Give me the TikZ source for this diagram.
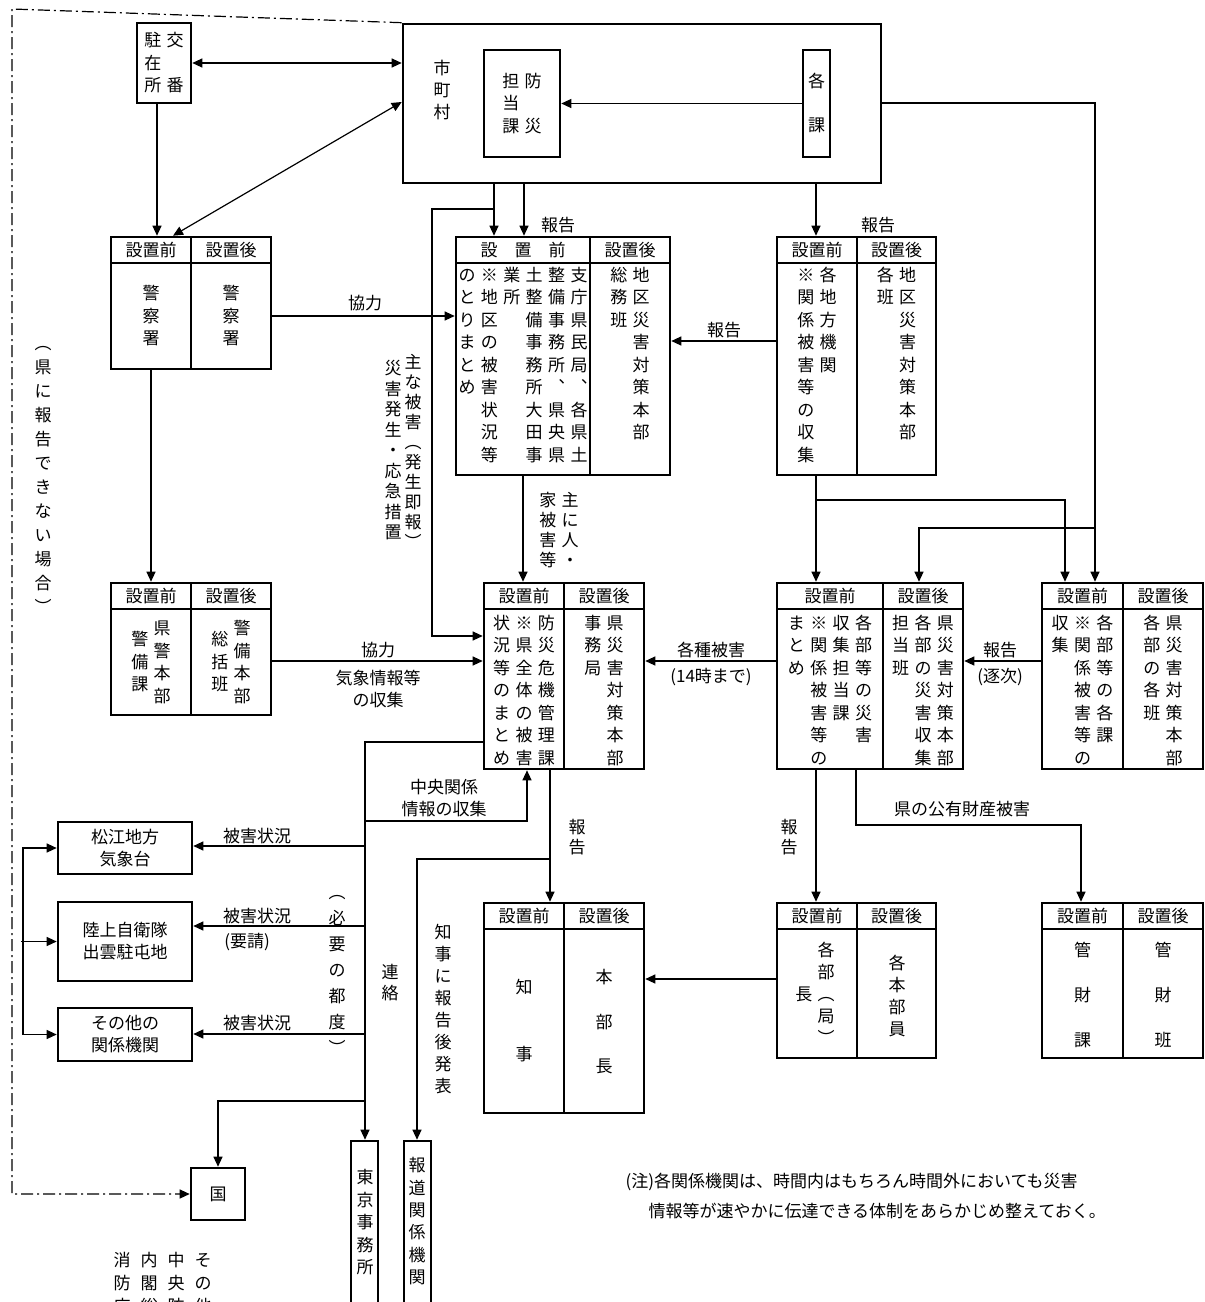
\documentclass[tikz,border=0pt]{standalone}
\usepackage{fontspec}
\setmainfont{Noto Sans CJK JP}
\usetikzlibrary{arrows.meta}
\newlength\tatew
\setlength\tatew{22.4pt}
\newcommand\kara{}
\def\tatego#1{\ifx#1\relax\else\hbox to\tatew{\hss\vrule width0pt height.88em depth.12em\relax#1\hss}\expandafter\tatego\fi}
\newcommand\tate[2][22.5pt]{\vtop{\baselineskip=#1\lineskiplimit=-\maxdimen\tatego#2\relax}}
\newcommand\tatec[2][22.5pt]{$\vcenter{\baselineskip=#1\lineskiplimit=-\maxdimen\tatego#2\relax}$}
\newcommand\kubun[7]{%
  \node[waku, minimum width={(#5-#2)*1pt}, minimum height={(#6-#3)*1pt}] (#1) at ({(#2+#5)/2},{(#3+#6)/2}) {};
  \draw[waku] (#2,#3+26) -- (#5,#3+26) (#4,#3) -- (#4,#6);
  \node (#1-mae) at ({(#2+#4)/2},#3+13) {#7};
  \node (#1-ato) at ({(#4+#5)/2},#3+13) {設置後};
}

\begin{document}
\begin{tikzpicture}[x=1pt,y=-1pt,
  font=\fontsize{17pt}{22pt}\selectfont,
  waku/.style={draw,line width=2.6pt,inner sep=0pt},
  sen/.style={line width=1.2pt},
  ya/.style={sen,-{Triangle[length=10pt,width=9pt]}},
  yaw/.style={sen,{Triangle[length=10pt,width=9pt]}-{Triangle[length=10pt,width=9pt]}},
  moji/.style={inner sep=0pt},
  hasen/.style={sen,dash pattern=on 12pt off 4pt on 2pt off 4pt}]
\useasboundingbox (0,0) rectangle (1205,1302);
\clip (0,0) rectangle (1205,1302);

\node[waku, minimum width=478pt, minimum height=159pt] (shichoson) at (642,103.5) {};
\node[moji] (shichoson-t) at (442,90) {\tatec[22pt]{市町村}};
\node[waku, minimum width=76pt, minimum height=107pt] (bosai) at (522,103.5) {\tatec{担当課}\tatec{防\kara 災}};
\node[waku, minimum width=27pt, minimum height=107pt] (kakuka) at (816.5,103.5) {\tatec[44pt]{各課}};
\node[waku, minimum width=54pt, minimum height=80pt] (koban) at (164,63) {\tatec{駐在所}\tatec{交\kara 番}};

\kubun{keisatsu}{111}{237}{191}{271}{369}{設置前}
\node[moji] (keisatsu-l) at (151,316) {\tatec{警察署}};
\node[moji] (keisatsu-r) at (231,316) {\tatec{警察署}};

\kubun{kenkei}{111}{583}{191}{271}{715}{設置前}
\node[moji] (kenkei-l) at (151,662) {\tatec{警備課}\tatec{県警本部}};
\node[moji] (kenkei-r) at (231,662) {\tatec{総括班}\tatec{警備本部}};

\kubun{shicho}{456}{237}{590}{670}{475}{設　置　前}
\node[moji,anchor=north] (shicho-l) at (523,266) {\tate{のとりまとめ}\tate{※地区の被害状況等}\tate{業所}\tate{土整備事務所大田事}\tate{整備事務所︑県央県}\tate{支庁県民局︑各県土}};
\node[moji,anchor=north] (shicho-r) at (630,266) {\tate{総務班}\tate{地区災害対策本部}};

\kubun{chiho}{777}{237}{857}{936}{475}{設置前}
\node[moji,anchor=north] (chiho-l) at (817,266) {\tate{※関係被害等の収集}\tate{各地方機関}};
\node[moji,anchor=north] (chiho-r) at (896.5,266) {\tate{各班}\tate{地区災害対策本部}};

\kubun{kiki}{484}{583}{564}{644}{769}{設置前}
\node[moji,anchor=north] (kiki-l) at (524,614) {\tate{状況等のまとめ}\tate{※県全体の被害}\tate{防災危機管理課}};
\node[moji,anchor=north] (kiki-r) at (604,614) {\tate{事務局}\tate{県災害対策本部}};

\kubun{kakubu}{777}{583}{883}{963}{769}{設置前}
\node[moji,anchor=north] (kakubu-l) at (830,614) {\tate{まとめ}\tate{※関係被害等の}\tate{収集担当課}\tate{各部等の災害}};
\node[moji,anchor=north] (kakubu-r) at (923,614) {\tate{担当班}\tate{各部の災害収集}\tate{県災害対策本部}};

\kubun{migi}{1042}{583}{1123}{1203}{769}{設置前}
\node[moji,anchor=north] (migi-l) at (1082.5,614) {\tate{収集}\tate{※関係被害等の}\tate{各部等の各課}};
\node[moji,anchor=north] (migi-r) at (1163,614) {\tate{各部の各班}\tate{県災害対策本部}};

\kubun{chiji}{484}{903}{564}{644}{1113}{設置前}
\node[moji] (chiji-l) at (524,1021) {\tatec[67pt]{知事}};
\node[moji] (chiji-r) at (604,1022) {\tatec[44.5pt]{本部長}};

\kubun{buchou}{777}{903}{857}{936}{1058}{設置前}
\node[moji] (buchou-l) at (815,994) {\tatec{長}\tatec[22pt]{各部︵局︶}};
\node[moji] (buchou-r) at (897,996) {\tatec[22pt]{各本部員}};

\kubun{kanzai}{1042}{903}{1123}{1203}{1058}{設置前}
\node[moji] (kanzai-l) at (1082.5,995) {\tatec[45pt]{管財課}};
\node[moji] (kanzai-r) at (1163,995) {\tatec[45pt]{管財班}};

\node[waku, minimum width=134pt, minimum height=52pt, align=center] (matsue) at (125,848) {松江地方\\気象台};
\node[waku, minimum width=134pt, minimum height=79pt, align=center] (jieitai) at (125,941.5) {陸上自衛隊\\出雲駐屯地};
\node[waku, minimum width=134pt, minimum height=53pt, align=center] (sonota) at (125,1034.5) {その他の\\関係機関};
\node[waku, minimum width=54pt, minimum height=52pt] (kuni) at (218,1194) {国};
\node[waku, minimum width=27pt, minimum height=175pt] (tokyo) at (364.5,1228.5) {};
\node[moji,anchor=north] (tokyo-t) at (365,1168.5) {\tate{東京事務所}};
\node[waku, minimum width=27pt, minimum height=175pt] (houdou) at (417.5,1228.5) {};
\node[moji,anchor=north] (houdou-t) at (417,1156.5) {\tate[22.4pt]{報道関係機関}};

\node[moji,anchor=north] (l-basho) at (43,334.5) {\tate[24pt]{︵県に報告できない場合︶}};
\node[moji,anchor=north] (l-omona) at (413,353.5) {\tate[20pt]{主な被害︵発生即報︶}};
\node[moji,anchor=north] (l-saigai) at (393,359.5) {\tate[20.5pt]{災害発生・応急措置}};
\node[moji,anchor=north] (l-jinka) at (559,491.5) {\tate[20pt]{家被害等}\tate[20pt]{主に人・}};
\node[moji,anchor=north] (l-hou4) at (577,818.5) {\tate[20pt]{報告}};
\node[moji,anchor=north] (l-hou5) at (789,818.5) {\tate[20pt]{報告}};
\node[moji,anchor=north] (l-tsudo) at (337,883.5) {\tate[26pt]{︵必要の都度︶}};
\node[moji,anchor=north] (l-renraku) at (390,963.5) {\tate[21pt]{連絡}};
\node[moji,anchor=north] (l-happyo) at (443,923.5) {\tate[22pt]{知事に報告後発表}};
\node[moji,anchor=north] (l-kuni) at (162.5,1251.5) {\tate[23pt]{消防庁}\hspace{4.6pt}\tate[23pt]{内閣総}\hspace{4.6pt}\tate[23pt]{中央防}\hspace{4.6pt}\tate[23pt]{その他}};

\node (l-kyo1) at (365,303) {協力};
\node (l-hou1) at (558,225) {報告};
\node (l-hou2) at (878,225) {報告};
\node (l-hou3) at (724,330) {報告};
\node (l-kyo2) at (378,650) {協力};
\node[align=center] (l-kisho) at (378,689) {気象情報等\\の収集};
\node (l-kakushu) at (711,650) {各種被害};
\node (l-jikan) at (711,677) {(14時まで)};
\node (l-hou6) at (1000,650) {報告};
\node (l-chikuji) at (1000,677) {(逐次)};
\node[align=center] (l-chuo) at (444,798) {中央関係\\情報の収集};
\node (l-hi1) at (257,836) {被害状況};
\node (l-hi2) at (257,916) {被害状況};
\node (l-yosei) at (247,942) {(要請)};
\node (l-hi3) at (257,1023) {被害状況};
\node (l-koyu) at (962,809) {県の公有財産被害};
\node[anchor=west] (chu1) at (622,1182) {(注)各関係機関は、時間内はもちろん時間外においても災害};
\node[anchor=west] (chu2) at (645,1211) {情報等が速やかに伝達できる体制をあらかじめ整えておく。};

\draw[yaw] (koban.east) -- (koban.east -| shichoson.west);
\draw[yaw] (shichoson.west |- 0,102) -- (173,0 |- keisatsu.north);
\draw[ya] (157,0 |- koban.south) -- (157,0 |- keisatsu.north);
\draw[ya] (494,0 |- shichoson.south) -- (494,0 |- shicho.north);
\draw[ya] (524,0 |- shichoson.south) -- (524,0 |- shicho.north);
\draw[ya] (816,0 |- shichoson.south) -- (816,0 |- chiho.north);
\draw[ya] (494,209) -- (432,209) -- (432,636) -- (kiki.west |- 0,636);
\draw[ya] (kakuka.west) -- (bosai.east);
\draw[ya] (shichoson.east |- 0,103) -| (1095,0 |- migi.north);
\draw[ya] (1095,528) -| (919,0 |- kakubu.north);
\draw[ya] (816,0 |- chiho.south) -- (816,0 |- kakubu.north);
\draw[ya] (816,500) -| (1065,0 |- migi.north);
\draw[ya] (keisatsu.east |- 0,316) -- (shicho.west |- 0,316);
\draw[ya] (chiho.west |- 0,341) -- (shicho.east |- 0,341);
\draw[ya] (151,0 |- keisatsu.south) -- (151,0 |- kenkei.north);
\draw[ya] (kenkei.east |- 0,661) -- (kiki.west |- 0,661);
\draw[ya] (523,0 |- shicho.south) -- (523,0 |- kiki.north);
\draw[ya] (kakubu.west |- 0,661) -- (kiki.east |- 0,661);
\draw[ya] (migi.west |- 0,661) -- (kakubu.east |- 0,661);
\draw[ya] (550,0 |- kiki.south) -- (550,0 |- chiji.north);
\draw[ya] (550,859) -| (417,0 |- houdou.north);
\draw[ya] (kiki.west |- 0,742) -| (365,0 |- tokyo.north);
\draw[ya] (365,846) -- (matsue.east |- 0,846);
\draw[ya] (365,926) -- (jieitai.east |- 0,926);
\draw[ya] (365,1034) -- (sonota.east |- 0,1034);
\draw[ya] (365,1101) -| (218,0 |- kuni.north);
\draw[ya] (365,821) -| (527,0 |- kiki.south);
\draw[ya] (sonota.west -| 23,0) |- (matsue.west);
\draw[ya] (sonota.west -| 23,0) -- (sonota.west);
\draw[ya] (jieitai.west -| 21,0) -- (jieitai.west);
\draw[ya] (buchou.west |- 0,979) -- (chiji.east |- 0,979);
\draw[ya] (816,0 |- kakubu.south) -- (816,0 |- buchou.north);
\draw[ya] (856,0 |- kakubu.south) |- (1081,825) -- (1081,0 |- kanzai.north);
\draw[hasen,-{Triangle[length=10pt,width=9pt]}] (shichoson.north west) -- (12,9) -- (12,1194) -- (kuni.west);
\end{tikzpicture}
\end{document}
